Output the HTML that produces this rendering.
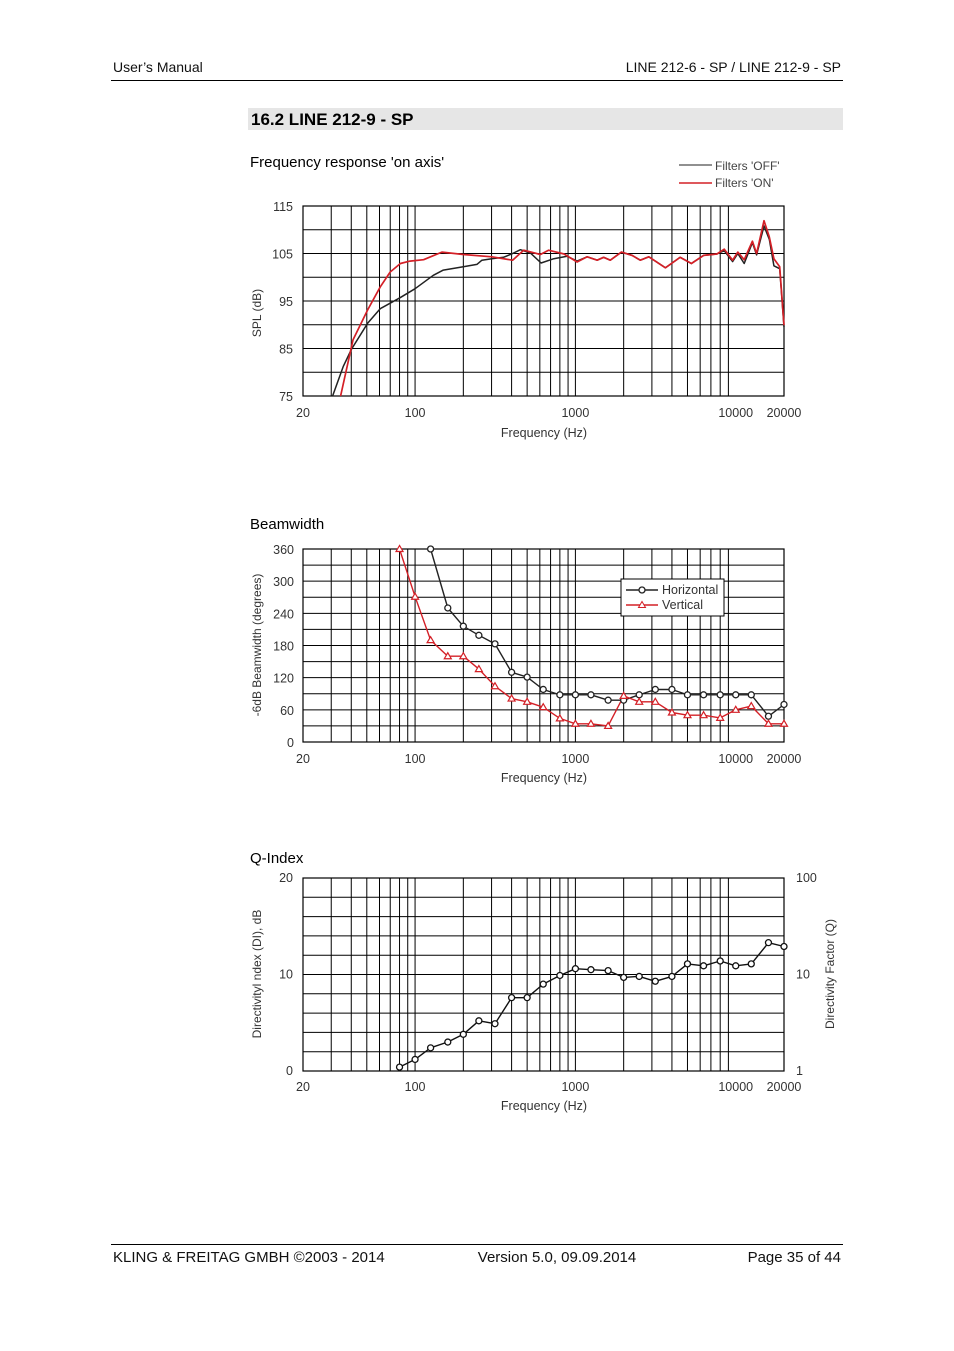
<!DOCTYPE html>
<html><head><meta charset="utf-8"><style>
body{margin:0;background:#fff;}
svg{display:block;font-family:"Liberation Sans",sans-serif;}
</style></head><body>
<svg id="pg" width="954" height="1351" viewBox="0 0 954 1351" xmlns="http://www.w3.org/2000/svg">
<text x="113" y="72" font-size="14" fill="#111">User’s Manual</text>
<text x="841" y="72" font-size="14" fill="#111" text-anchor="end">LINE 212-6 - SP / LINE 212-9 - SP</text>
<line x1="111" y1="80.5" x2="843" y2="80.5" stroke="#000"/>
<rect x="248" y="108" width="595" height="22" fill="#e6e6e6"/>
<text x="251" y="125" font-size="17" font-weight="bold" fill="#000">16.2  LINE 212-9 - SP</text>
<text x="250" y="167" font-size="15" fill="#000">Frequency response 'on axis'</text>
<line x1="679" y1="165" x2="712" y2="165" stroke="#222"/>
<text x="715" y="170" font-size="12" fill="#444">Filters 'OFF'</text>
<line x1="679" y1="183" x2="712" y2="183" stroke="#d42027" stroke-width="1.5"/>
<text x="715" y="187" font-size="12" fill="#444">Filters 'ON'</text>
<text x="250" y="529" font-size="15" fill="#000">Beamwidth</text>
<text x="250" y="863" font-size="15" fill="#000">Q-Index</text>
<line x1="111" y1="1244.5" x2="843" y2="1244.5" stroke="#000"/>
<text x="113" y="1262" font-size="15" fill="#111">KLING &amp; FREITAG GMBH ©2003 - 2014</text>
<text x="557" y="1262" font-size="15" fill="#111" text-anchor="middle">Version 5.0, 09.09.2014</text>
<text x="841" y="1262" font-size="15" fill="#111" text-anchor="end">Page 35 of 44</text>
<g id="c1"></g>
<g id="c2"></g>
<g id="c3"></g>
</svg>
<script>
// ---- Chart 1 data ----
const frOffFreq=[30.6,35.6,40.2,50.6,60.7,80.6,100,130,150,200,243,261,301,356,406,454,524,611,733,888,1025,1185,1367,1500,1650,1937,2257,2540,2870,3640,4500,5290,6300,7630,8470,9560,10300,11300,12700,13500,15000,16200,17300,18800,20000];
const frOffDb=[75,81.2,84.9,90.3,93.4,95.7,97.6,100.4,101.5,102.2,102.7,103.6,103.9,104.2,105.0,105.8,105.1,103.0,103.9,104.4,103.4,104.3,103.6,104.2,103.6,105.3,104.6,103.6,104.3,102.0,104.2,102.9,104.6,104.9,105.6,103.3,105.0,102.9,107.3,104.7,110.8,108.0,102.4,101.8,89.5];
const frOnFreq=[34.3,41,50.6,60.7,70,81,93,113,147,200,301,406,476,605,680,850,1025,1185,1367,1500,1650,1937,2257,2540,2870,3640,4500,5290,6300,7630,8470,9560,10300,11300,12700,13500,15000,16200,17300,18800,20000];
const frOnDb=[75,86.8,93.1,98.0,101.1,102.9,103.4,103.7,105.3,104.8,104.3,103.6,105.7,104.8,105.7,104.9,103.2,104.3,103.6,104.2,103.6,105.3,104.6,103.6,104.3,102.0,104.2,102.9,104.6,104.9,105.9,103.6,105.3,103.7,107.6,105.0,111.9,108.5,103.9,102.2,89.9];
const frYTicks=[75,85,95,105,115];
// ---- Chart 2 data ----
const bwFreq=[80,100,125,160,200,250,315,400,500,630,800,1000,1250,1600,2000,2500,3150,4000,5000,6300,8000,10000,12500,16000,20000];
const bwHoriz=[null,null,360,250,216,199,183,130,121,98,88,88,88,78,78,88,98,98,88,88,88,88,88,48,70];
const bwVert=[360,271,190,160,160,136,104,81,75,65,44,34,34,30,86,75,75,55,50,50,45,60,67,34,34];
const bwYTicks=[0,60,120,180,240,300,360];
// ---- Chart 3 data ----
const qFreq=[80,100,125,160,200,250,315,400,500,630,800,1000,1250,1600,2000,2500,3150,4000,5000,6300,8000,10000,12500,16000,20000];
const qDI=[0.4,1.2,2.4,3.0,3.8,5.2,4.9,7.6,7.6,9.0,9.9,10.6,10.5,10.4,9.7,9.8,9.3,9.8,11.1,10.9,11.4,10.9,11.1,13.3,12.9];
const qYTicks=[0,10,20];
const qRightTicks=["1","10","100"];
const xTicks=[20,100,1000,10000,20000];

const NS="http://www.w3.org/2000/svg";
function mk(parent,tag,attrs){const e=document.createElementNS(NS,tag);for(const k in attrs)e.setAttribute(k,attrs[k]);parent.appendChild(e);return e;}
const X0=303,X1=784;
function xs(f){return X0+(X1-X0)*Math.log10(f/20)/3;}
function grid(g,yTop,yBot,nH){
  const gridFreqs=[];
  for(const d of [10,100,1000]) for(let m=1;m<=9;m++){const f=m*d; if(f>20&&f<=10000) gridFreqs.push(f);}
  for(const f of gridFreqs){const l=mk(g,'line',{x1:xs(f),x2:xs(f),y1:yTop,y2:yBot,stroke:'#000','stroke-width':1});
    
    }
  for(let i=1;i<nH;i++){const y=yTop+(yBot-yTop)*i/nH;const l=mk(g,'line',{x1:X0,x2:X1,y1:y,y2:y,stroke:'#000','stroke-width':1});
    
    }
  const r=mk(g,'rect',{x:X0,y:yTop,width:X1-X0,height:yBot-yTop,fill:'none',stroke:'#000','stroke-width':1.2});
  
  
}
function xLabels(g,y,ty){
  for(const f of xTicks){const t=mk(g,'text',{x:xs(f),y:y,'font-size':12.5,'text-anchor':'middle',fill:'#333'});t.textContent=String(f);
    
    }
  const t=mk(g,'text',{x:544,y:ty,'font-size':12.5,'text-anchor':'middle',fill:'#333'});t.textContent='Frequency (Hz)';
  
  
}
function yTitle(g,x,y,txt,name){const t=mk(g,'text',{x:x,y:y,'font-size':12,'text-anchor':'middle',fill:'#333',transform:`rotate(-90 ${x} ${y})`});t.textContent=txt;
  
  }
function poly(g,fs,vs,ysc,color,w){let p=[];for(let i=0;i<fs.length;i++){if(vs[i]==null)continue;p.push(xs(fs[i]).toFixed(1)+','+ysc(vs[i]).toFixed(1));}
  return mk(g,'polyline',{points:p.join(' '),fill:'none',stroke:color,'stroke-width':w,'stroke-linejoin':'round'});}

// Chart 1
(function(){const g=document.getElementById('c1');const T=206,B=396;
 const ys=v=>B-(v-75)*(B-T)/40;
 grid(g,T,B,8);
 for(const v of frYTicks){const t=mk(g,'text',{x:293,y:ys(v)+5,'font-size':12.5,'text-anchor':'end',fill:'#333'});t.textContent=v;
  
  }
 xLabels(g,417,437);
 yTitle(g,261,313,'SPL (dB)','y-axis-title');
 const a=poly(g,frOffFreq,frOffDb,ys,'#222',1.5);
 
 
 const b=poly(g,frOnFreq,frOnDb,ys,'#d42027',1.7);
 
 
})();
// Chart 2
(function(){const g=document.getElementById('c2');const T=549,B=742;
 const ys=v=>B-v*(B-T)/360;
 grid(g,T,B,12);
 for(const v of bwYTicks){const t=mk(g,'text',{x:294,y:ys(v)+5,'font-size':12.5,'text-anchor':'end',fill:'#333'});t.textContent=v;
  
  }
 xLabels(g,763,782);
 yTitle(g,261,645,'-6dB Beamwidth (degrees)','y-axis-title');
 const h=poly(g,bwFreq,bwHoriz,ys,'#222',1.4);
 
 
 const v=poly(g,bwFreq,bwVert,ys,'#d42027',1.4);
 
 
 for(let i=0;i<bwFreq.length;i++){
  if(bwHoriz[i]!=null){const c=mk(g,'circle',{cx:xs(bwFreq[i]),cy:ys(bwHoriz[i]),r:3,fill:'#fff',stroke:'#222','stroke-width':1.3});
   
   }
  const x=xs(bwFreq[i]),y=ys(bwVert[i]);
  const p=mk(g,'polygon',{points:`${x},${y-3.5} ${x-3.5},${y+2.5} ${x+3.5},${y+2.5}`,fill:'#fff',stroke:'#d42027','stroke-width':1.2});
  
  
 }
 const lg=mk(g,'g',{});
 
 
 mk(lg,'rect',{x:621,y:579,width:103,height:37,fill:'#fff',stroke:'#000'});
 mk(lg,'line',{x1:626,x2:658,y1:590,y2:590,stroke:'#222','stroke-width':1.4});
 mk(lg,'circle',{cx:642,cy:590,r:3,fill:'#fff',stroke:'#222','stroke-width':1.3});
 mk(lg,'line',{x1:626,x2:658,y1:605,y2:605,stroke:'#d42027','stroke-width':1.4});
 mk(lg,'polygon',{points:'642,601.5 638.5,607.5 645.5,607.5',fill:'#fff',stroke:'#d42027'});
 const t1=mk(lg,'text',{x:662,y:594,'font-size':12.5,fill:'#333'});t1.textContent='Horizontal';
 const t2=mk(lg,'text',{x:662,y:609,'font-size':12.5,fill:'#333'});t2.textContent='Vertical';
})();
// Chart 3
(function(){const g=document.getElementById('c3');const T=878,B=1071;
 const ys=v=>B-v*(B-T)/20;
 grid(g,T,B,10);
 for(const v of qYTicks){const t=mk(g,'text',{x:293,y:ys(v)+4,'font-size':12.5,'text-anchor':'end',fill:'#333'});t.textContent=v;
  
  }
 qRightTicks.forEach((s,i)=>{const t=mk(g,'text',{x:796,y:ys(i*10)+4,'font-size':12.5,fill:'#333'});t.textContent=s;
  
  });
 xLabels(g,1091,1110);
 yTitle(g,261,974,'Directivityl ndex (DI), dB','y-axis-title');
 yTitle(g,834,974,'Directivity Factor (Q)','right-axis-title');
 const l=poly(g,qFreq,qDI,ys,'#111',1.4);
 
 
 for(let i=0;i<qFreq.length;i++){const c=mk(g,'circle',{cx:xs(qFreq[i]),cy:ys(qDI[i]),r:3,fill:'#fff',stroke:'#111','stroke-width':1.3});
  
  }
})();
</script>
</body></html>
